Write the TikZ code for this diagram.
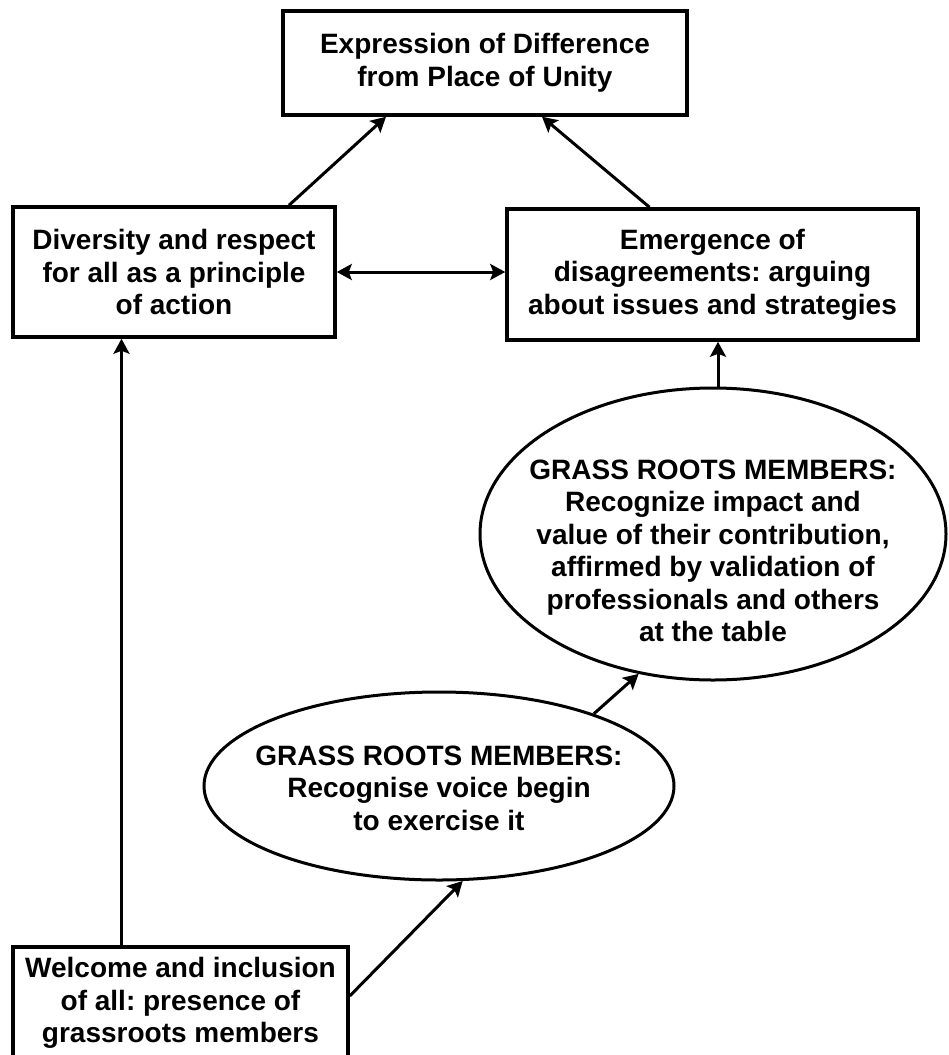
\documentclass[tikz,border=0pt]{standalone}
\usepackage{fontspec}
\setmainfont{Liberation Sans}
\usetikzlibrary{shapes.geometric,arrows.meta}
\frenchspacing
\begin{document}
\begin{tikzpicture}[x=1pt,y=-1pt,
    box/.style={draw,line width=3.5pt,align=center,inner sep=0pt,
      font=\fontsize{28}{32.5}\selectfont\bfseries},
    oval/.style={box,ellipse,line width=3pt,inner xsep=-20pt,inner ysep=-10pt},
    link/.style={line width=3pt,-{Stealth[length=15pt,width=16pt,inset=3pt]}},
    twoway/.style={line width=3pt,{Stealth[length=15pt,width=16pt,inset=3pt]}-{Stealth[length=15pt,width=16pt,inset=3pt]}}]
  \useasboundingbox (0,0) rectangle (948,1055);
  \node[box,minimum width=404pt,minimum height=104pt] (expr) at (485,63)
    {Expression of Difference\\from Place of Unity};
  \node[box,minimum width=322pt,minimum height=130pt] (divers) at (174,272)
    {Diversity and respect\\for all as a principle\\of action};
  \node[box,minimum width=411pt,minimum height=131pt] (emerg) at (712.5,274.5)
    {Emergence of\\disagreements: arguing\\about issues and strategies};
  \node[oval,minimum width=466pt,minimum height=292pt] (impact) at (713,534)
    {\raisebox{-20pt}[\height][\depth]{\begin{tabular}{@{}c@{}}GRASS ROOTS MEMBERS:\\Recognize impact and\\value of their contribution,\\affirmed by validation of\\professionals and others\\at the table\end{tabular}}};
  \node[oval,minimum width=470pt,minimum height=188pt] (voice) at (439,786)
    {\raisebox{-5pt}[\height][\depth]{\begin{tabular}{@{}c@{}}GRASS ROOTS MEMBERS:\\Recognise voice begin\\to exercise it\end{tabular}}};
  \node[box,minimum width=335pt,minimum height=112pt] (welcome) at (180.5,1003)
    {Welcome and inclusion\\of all: presence of\\grassroots members};
  \draw[link] ([xshift=115pt]divers.north) -- ([xshift=-99pt]expr.south);
  \draw[link] ([xshift=-63pt]emerg.north) -- ([xshift=57pt]expr.south);
  \draw[twoway] (divers.east) -- (divers.east -| emerg.west);
  \draw[link] ([xshift=5pt]impact.north) -- ([xshift=5pt]impact.north |- emerg.south);
  \draw[link] (voice.25) -- (impact.242);
  \draw[link] ([yshift=7pt]welcome.east) -- (voice.284);
  \draw[link] ([xshift=-59pt]welcome.north) -- ([xshift=-59pt]welcome.north |- divers.south);
\end{tikzpicture}
\end{document}
